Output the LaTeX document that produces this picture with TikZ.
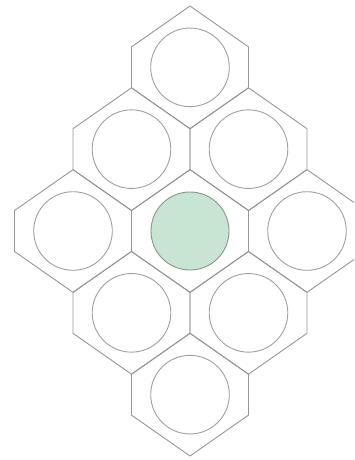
\documentclass[tikz,border=0pt]{standalone}
\definecolor{hexline}{RGB}{150,150,150}
\definecolor{circline}{RGB}{160,160,160}
\definecolor{greenfill}{RGB}{200,228,211}
\definecolor{greenline}{RGB}{135,150,140}
\begin{document}
\begin{tikzpicture}[x=1pt,y=-1pt,
  hexcell/.style={draw=hexline,line width=0.9pt,line join=round},
  ring/.style={draw=circline,line width=0.9pt},
  core/.style={draw=greenline,fill=greenfill,line width=0.9pt}]
\useasboundingbox (0,0) rectangle (354,460);
\clip (0,0) rectangle (354,460);
\def\hw{58.5}
\def\hs{20.45}
\def\ht{61.35}
\foreach \cx/\cy in {190/67.35, 131.5/149.15, 248.5/149.15, 73/231, 190/231, 307/231, 131.5/312.85, 248.5/312.85, 190/394.65}{
  \draw[hexcell] (\cx,\cy-\ht) -- (\cx+\hw,\cy-\hs) -- (\cx+\hw,\cy+\hs) -- (\cx,\cy+\ht) -- (\cx-\hw,\cy+\hs) -- (\cx-\hw,\cy-\hs) -- cycle;
}
\foreach \cx/\cy in {190/67.35, 131.5/149.15, 248.5/149.15, 73/231, 307/231, 131.5/312.85, 248.5/312.85, 190/394.65}{
  \draw[ring] (\cx,\cy) circle (39.3);
}
\draw[core] (190,231) circle (39);
\end{tikzpicture}
\end{document}
